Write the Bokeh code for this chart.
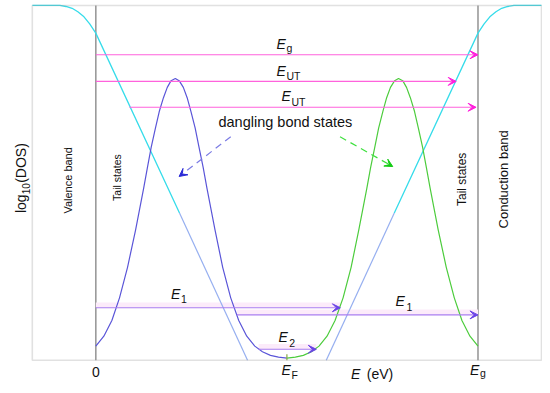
from math import pi
from bokeh.plotting import figure
from bokeh.models import Range1d, Label, Arrow, VeeHead, ColumnDataSource, BoxAnnotation
from bokeh.embed import file_html
from bokeh.resources import INLINE

FONT = "Liberation Sans"

# ---------------- data (E in units of Eg, y = log10(DOS) arbitrary 0..10) ----------------
band_edge_E = [0.0, 1.0]          # valence band edge (0) and conduction band edge (Eg)
fermi_E = [0.5]                   # E_F
fermi_tick_top = [0.17]

# dangling-bond states (lower half, blue)
db_low_E = [0.000, 0.021, 0.042, 0.062, 0.083, 0.104, 0.125, 0.135, 0.145, 0.156, 0.166,
            0.177, 0.187, 0.197, 0.208, 0.218, 0.229, 0.239, 0.249, 0.260, 0.270, 0.281,
            0.291, 0.312, 0.332, 0.353, 0.374, 0.395, 0.416, 0.436, 0.457, 0.478, 0.500]
db_low_logDOS = [0.40, 0.68, 1.12, 1.76, 2.62, 3.67, 4.84, 5.43, 6.01, 6.54, 7.01,
                 7.40, 7.69, 7.88, 7.94, 7.88, 7.69, 7.40, 7.01, 6.54, 6.01, 5.43,
                 4.84, 3.67, 2.62, 1.76, 1.12, 0.68, 0.40, 0.24, 0.14, 0.09, 0.06]

# dangling-bond states (upper half, green)
db_up_E = [0.500, 0.522, 0.543, 0.564, 0.584, 0.605, 0.626, 0.647, 0.668, 0.688, 0.709,
           0.719, 0.730, 0.740, 0.751, 0.761, 0.771, 0.782, 0.792, 0.803, 0.813, 0.823,
           0.834, 0.844, 0.855, 0.865, 0.875, 0.896, 0.917, 0.938, 0.958, 0.979, 1.000]
db_up_logDOS = [0.06, 0.09, 0.14, 0.24, 0.40, 0.68, 1.12, 1.76, 2.62, 3.67, 4.84,
                5.43, 6.01, 6.54, 7.01, 7.40, 7.69, 7.88, 7.94, 7.88, 7.69, 7.40,
                7.01, 6.54, 6.01, 5.43, 4.84, 3.67, 2.62, 1.76, 1.12, 0.68, 0.40]

# valence band + its tail
vb_E = [-0.166, -0.120, -0.094, -0.078, -0.062, -0.047, -0.031, -0.016, 0.000, 0.219]
vb_logDOS = [10.00, 10.00, 10.00, 9.97, 9.92, 9.82, 9.68, 9.48, 9.22, 4.15]
vb_tail_E = [0.219, 0.397]
vb_tail_logDOS = [4.15, 0.0]

# conduction band + its tail
cb_E = [1.166, 1.120, 1.094, 1.078, 1.062, 1.047, 1.031, 1.016, 1.000, 0.781]
cb_logDOS = [10.00, 10.00, 10.00, 9.97, 9.92, 9.82, 9.68, 9.48, 9.22, 4.15]
cb_tail_E = [0.781, 0.603]
cb_tail_logDOS = [4.15, 0.0]

# transitions (arrows)
mag_E0 = [0.000, 0.000, 0.088]
mag_E1 = [1.000, 0.943, 0.995]
mag_y = [8.61, 7.86, 7.13]

pur_E0 = [0.000, 0.369, 0.426]
pur_E1 = [0.640, 1.000, 0.577]
pur_y = [1.48, 1.28, 0.31]

dash_blue = dict(x0=[0.353], y0=[6.30], x1=[0.218], y1=[5.18])
dash_green = dict(x0=[0.639], y0=[6.30], x1=[0.777], y1=[5.46])

# ---------------- figure ----------------
p = figure(width=542, height=385, output_backend="svg", toolbar_location=None,
           x_range=Range1d(-0.2494, 1.1688), y_range=Range1d(-0.710, 10.139),
           min_border=0, min_border_left=0, min_border_right=0,
           min_border_top=0, min_border_bottom=0)
p.xaxis.visible = False
p.yaxis.visible = False
p.xgrid.visible = False
p.ygrid.visible = False
p.outline_line_color = None
p.background_fill_color = "white"
p.border_fill_color = "white"

# band edges
p.segment(x0=band_edge_E, y0=[0, 0], x1=band_edge_E, y1=[10, 10],
          line_color="#9a9a9a", line_width=1.6)

# faint glow behind purple arrows
p.segment(x0=pur_E0, y0=[v + 0.08 for v in pur_y], x1=pur_E1, y1=[v + 0.08 for v in pur_y],
          line_color="#fcebfa", line_width=5)

# bands
p.line(vb_E, vb_logDOS, line_color="#36dcea", line_width=1.3)
p.line(vb_tail_E, vb_tail_logDOS, line_color="#96aff0", line_width=1.2)
p.line(cb_E, cb_logDOS, line_color="#36dcea", line_width=1.3)
p.line(cb_tail_E, cb_tail_logDOS, line_color="#96aff0", line_width=1.2)

# dangling bond states
p.line(db_low_E, db_low_logDOS, line_color="#5a55d8", line_width=1.2)
p.line(db_up_E, db_up_logDOS, line_color="#4ccc3c", line_width=1.2)

# fermi tick
p.segment(x0=fermi_E, y0=[0], x1=fermi_E, y1=fermi_tick_top, line_color="#8aa848", line_width=1.2)

# plot frame
p.add_layout(BoxAnnotation(left=-0.1662, right=1.1662, bottom=0, top=10,
                           fill_alpha=0, line_color="#9a9a9a", line_width=1.6))

# arrows
mag_src = ColumnDataSource(dict(x0=mag_E0, x1=mag_E1, y=mag_y))
p.add_layout(Arrow(source=mag_src, x_start="x0", y_start="y", x_end="x1", y_end="y",
                   line_color="#ff62dc", line_width=1.1,
                   end=VeeHead(size=8, fill_color="#ff1fdc", line_color="#ff1fdc", line_width=1)))
pur_src = ColumnDataSource(dict(x0=pur_E0, x1=pur_E1, y=pur_y))
p.add_layout(Arrow(source=pur_src, x_start="x0", y_start="y", x_end="x1", y_end="y",
                   line_color="#a97cf0", line_width=1.1,
                   end=VeeHead(size=8, fill_color="#6a44e6", line_color="#6a44e6", line_width=1)))
p.add_layout(Arrow(source=ColumnDataSource(dash_blue), x_start="x0", y_start="y0",
                   x_end="x1", y_end="y1", line_color="#7c7ce4", line_width=1.2, line_dash="7 5",
                   end=VeeHead(size=8, fill_color="#2a2ad6", line_color="#2a2ad6", line_width=1)))
p.add_layout(Arrow(source=ColumnDataSource(dash_green), x_start="x0", y_start="y0",
                   x_end="x1", y_end="y1", line_color="#3ee03e", line_width=1.2, line_dash="7 5",
                   end=VeeHead(size=8, fill_color="#14cc14", line_color="#14cc14", line_width=1)))


def lab(x, y, text, size, italic=False, angle=0.0, align="left", baseline="alphabetic"):
    p.add_layout(Label(x=x, y=y, text=text, text_font=FONT, text_font_size=f"{size}px",
                       text_font_style="italic" if italic else "normal", angle=angle,
                       text_align=align, text_baseline=baseline, text_color="#111111"))


def esym(x, y, sub, xs, ys, size=14, subsize=10.5):
    lab(x, y, "E", size, italic=True)
    lab(xs, ys, sub, subsize)


# energy labels
esym(0.473, 8.92, "g", 0.499, 8.79)
esym(0.473, 8.14, "UT", 0.499, 8.00)
esym(0.486, 7.44, "UT", 0.512, 7.27)
esym(0.197, 1.87, "1", 0.223, 1.73)
esym(0.784, 1.67, "1", 0.813, 1.50)
esym(0.478, 0.67, "2", 0.506, 0.50)

# axis-like labels under the frame
lab(0.0, -0.34, "0", 14, align="center")
esym(0.486, -0.27, "F", 0.512, -0.42)
esym(0.979, -0.27, "g", 1.005, -0.37)
lab(0.668, -0.40, "E", 14, italic=True)
lab(0.709, -0.40, "(eV)", 14)

# y label: log10(DOS)
lab(-0.197, 4.15, "log", 14, angle=pi / 2)
lab(-0.183, 4.68, "10", 10, angle=pi / 2)
lab(-0.197, 5.00, "(DOS)", 14, angle=pi / 2)

# region labels
lab(-0.073, 5.07, "Valence band", 11, angle=pi / 2, align="center", baseline="middle")
lab(0.055, 5.15, "Tail states", 10.5, angle=pi / 2, align="center", baseline="middle")
lab(0.958, 5.10, "Tail states", 12, angle=pi / 2, align="center", baseline="middle")
lab(1.068, 5.10, "Conduction band", 13, angle=pi / 2, align="center", baseline="middle")
lab(0.496, 6.71, "dangling bond states", 14.5, align="center", baseline="middle")

open("out.html", "w").write(file_html(p, INLINE))
